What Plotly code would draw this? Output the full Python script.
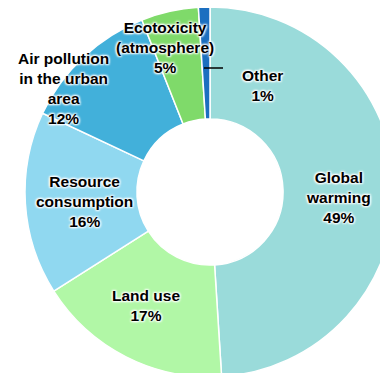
import plotly.graph_objects as go

labels = ["Global warming", "Land use", "Resource consumption",
          "Air pollution in the urban area", "Ecotoxicity (atmosphere)", "Other"]
label_lines = ["Global<br>warming", "Land use", "Resource<br>consumption",
               "Air pollution<br>in the urban<br>area", "Ecotoxicity<br>(atmosphere)", "Other"]
values = [49, 17, 16, 12, 5, 1]
colors = ["#9ADBDA", "#B1F7A6", "#90D8F0", "#42B0DA", "#7FDA6A", "#1C6FC0"]

# label anchor positions in screen pixels (x, y center)
label_px = [(338, 198), (146, 305), (84, 201), (63, 88), (165, 47), (262, 85)]

W, H = 395, 377
L, T = 25, 7
PW = W - L
PH = H - T

fig = go.Figure()
fig.add_trace(go.Pie(
    labels=labels, values=values, sort=False, direction="clockwise",
    rotation=0, hole=0.395, textinfo="none", hoverinfo="label+percent",
    marker=dict(colors=colors, line=dict(color="white", width=1.5)),
    showlegend=False,
))

shadow = "1px 1px 2px white, -1px -1px 2px white, 1px -1px 2px white, -1px 1px 2px white"
for txt, v, (px, py) in zip(label_lines, values, label_px):
    fig.add_annotation(
        x=(px - L) / PW, y=1 - (py - T) / PH, xref="paper", yref="paper",
        text=f"{txt}<br>{v}%", showarrow=False, align="center",
        xanchor="center", yanchor="middle",
        font=dict(family="Liberation Sans, Arial", size=15.5, color="black",
                  weight="bold", shadow=shadow),
    )

# leader line for "Other"
fig.add_shape(type="line", xref="paper", yref="paper",
              x0=(204 - L) / PW, x1=(223 - L) / PW,
              y0=1 - (68 - T) / PH, y1=1 - (68 - T) / PH,
              line=dict(color="black", width=1.5))

fig.update_layout(
    width=W, height=H, margin=dict(l=L, r=0, t=T, b=0, autoexpand=False),
    paper_bgcolor="white", plot_bgcolor="white",
)

fig.write_html("out.html",
               post_script="document.documentElement.style.overflow='hidden';document.body.style.overflow='hidden';document.body.style.margin='0';")
